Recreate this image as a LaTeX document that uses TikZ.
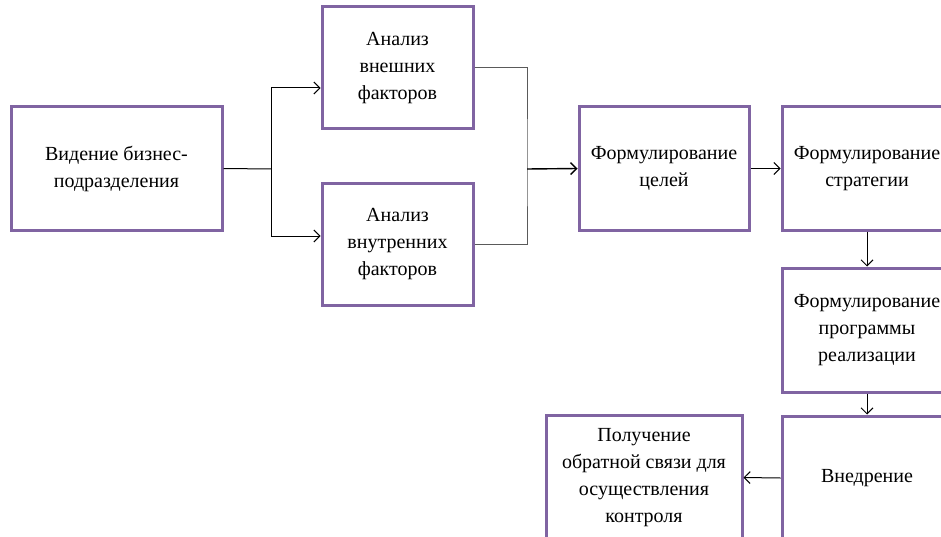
\documentclass[tikz,border=0pt]{standalone}
\usepackage{fontspec}
\setmainfont{Liberation Serif}
\usetikzlibrary{arrows.meta}
\definecolor{boxpurple}{RGB}{128,100,162}
\definecolor{lingray}{RGB}{90,90,90}
\tikzset{
    stagebox/.style={draw=boxpurple, line width=3pt, fill=white, align=center,
        font=\fontsize{20}{27}\selectfont, inner sep=4pt},
    link/.style={draw=black, line width=1pt},
    linkarr/.style={link, -{Straight Barb[length=6pt,width=12pt]}}
}
\begin{document}
\begin{tikzpicture}[x=1pt,y=-1pt]
\useasboundingbox (0,0) rectangle (941,537);
\clip (0,0) rectangle (941,537);

% first column
\node[stagebox, minimum width=211pt, minimum height=123pt] (vision) at (116.5,168.5) {Видение бизнес-\\подразделения};

% analysis
\node[stagebox, minimum width=151pt, minimum height=122pt] (extf) at (397.5,68) {Анализ\\внешних\\факторов};
\node[stagebox, minimum width=151pt, minimum height=122pt] (intf) at (397.5,244.5) {Анализ\\внутренних\\факторов};

% goals and strategy
\node[stagebox, minimum width=170pt, minimum height=123pt] (goals) at (664,168.5) {Формулирование\\целей};
\node[stagebox, minimum width=170pt, minimum height=123pt] (strat) at (867,168.5) {Формулирование\\стратегии};
\node[stagebox, minimum width=170pt, minimum height=124pt] (prog) at (867,330) {Формулирование\\программы\\реализации};
\node[stagebox, minimum width=170pt, minimum height=124pt] (impl) at (867,478) {Внедрение};
\node[stagebox, minimum width=196pt, minimum height=125pt] (feedb) at (644,477.5) {Получение\\обратной связи для\\осуществления\\контроля};

% junctions
\coordinate (split) at (271,169);
\coordinate (merge) at (527,169);

% connectors
\draw[link] (vision.east) -- (split);
\draw[linkarr] (split) |- ([yshift=-20pt]extf.west);
\draw[linkarr] (split) |- ([yshift=8.5pt]intf.west);
\draw[link, draw=lingray] (extf.east) -| (merge) |- (intf.east);
\draw[linkarr, line width=1.4pt] (merge) -- (goals.west);
\draw[linkarr] (goals.east) -- (strat.west);
\draw[linkarr] (strat.south) -- (prog.north);
\draw[linkarr] (prog.south) -- (impl.north);
\draw[linkarr] (impl.west) -- (feedb.east);

\end{tikzpicture}
\end{document}
